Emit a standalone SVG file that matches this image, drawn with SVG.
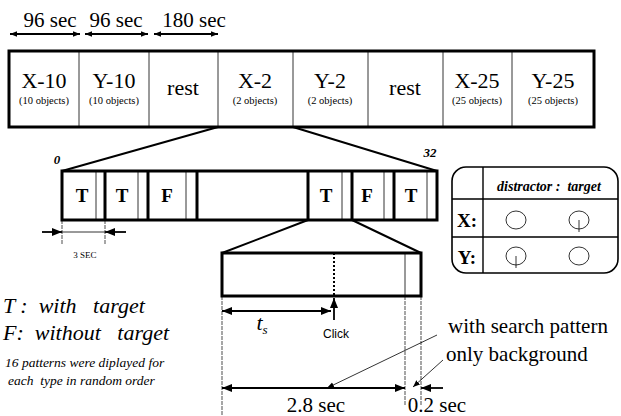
<svg xmlns="http://www.w3.org/2000/svg" width="621" height="416" viewBox="0 0 621 416">
<defs>
<marker id="ah" viewBox="0 0 10 10" refX="10" refY="5" markerWidth="10" markerHeight="10" markerUnits="userSpaceOnUse" orient="auto-start-reverse"><path d="M0,1 L10,5 L0,9 Z" fill="#000"/></marker>
<marker id="ahs" viewBox="0 0 10 10" refX="10" refY="5" markerWidth="7" markerHeight="7" markerUnits="userSpaceOnUse" orient="auto-start-reverse"><path d="M0,1 L10,5 L0,9 Z" fill="#000"/></marker>
</defs>
<style>
.big{font-size:22px;text-anchor:middle}
.sub{font-size:10.5px;text-anchor:middle}
.tf{font-size:19px;font-weight:bold;text-anchor:middle}
.thick{fill:none;stroke:#000;stroke-width:3}
.thin{fill:none;stroke:#000;stroke-width:0.8}
.guide{fill:none;stroke:#000;stroke-width:0.7;stroke-dasharray:4 1}
.line{fill:none;stroke:#000;stroke-width:2}
.arr{fill:none;stroke:#000;stroke-width:1.8}
.pre{white-space:pre}
</style>
<rect width="621" height="416" fill="#fff"/>

<g id="durations">
<text x="50" y="27" font-family="Liberation Serif" font-size="21" text-anchor="middle">96 sec</text>
<text x="116" y="27" font-family="Liberation Serif" font-size="21" text-anchor="middle">96 sec</text>
<text x="194" y="27" font-family="Liberation Serif" font-size="21" text-anchor="middle">180 sec</text>
</g>

<g id="session-bar">
<rect x="9" y="51" width="585" height="76" class="thick"/>
<path d="M79,51V127 M149,51V127 M218,51V127 M293,51V127 M368,51V127 M443,51V127 M512,51V127" class="thin"/>
</g>
<g id="x10"><text x="44" y="88" font-family="Liberation Serif" class="big">X-10</text><text x="44" y="104" font-family="Liberation Serif" class="sub">(10 objects)</text></g>
<g id="y10"><text x="114" y="88" font-family="Liberation Serif" class="big">Y-10</text><text x="114" y="104" font-family="Liberation Serif" class="sub">(10 objects)</text></g>
<g id="rest1"><text x="183" y="95" font-family="Liberation Serif" class="big">rest</text></g>
<g id="x2"><text x="255" y="88" font-family="Liberation Serif" class="big">X-2</text><text x="255" y="104" font-family="Liberation Serif" class="sub">(2 objects)</text></g>
<g id="y2"><text x="330" y="88" font-family="Liberation Serif" class="big">Y-2</text><text x="330" y="104" font-family="Liberation Serif" class="sub">(2 objects)</text></g>
<g id="rest2"><text x="405" y="95" font-family="Liberation Serif" class="big">rest</text></g>
<g id="x25"><text x="477" y="88" font-family="Liberation Serif" class="big">X-25</text><text x="477" y="104" font-family="Liberation Serif" class="sub">(25 objects)</text></g>
<g id="y25"><text x="553" y="88" font-family="Liberation Serif" class="big">Y-25</text><text x="553" y="104" font-family="Liberation Serif" class="sub">(25 objects)</text></g>

<g id="trial-strip">
<rect x="62" y="171" width="375" height="49" class="thick"/>
<path d="M105,171V220 M148,171V220 M197,171V220 M308,171V220 M352,171V220 M394,171V220" stroke="#000" stroke-width="3"/>
<path d="M96,171V220 M138,171V220 M186,171V220 M342,171V220 M384,171V220 M427,171V220" class="thin"/>
<text x="82" y="202" font-family="Liberation Serif" class="tf">T</text>
<text x="122" y="202" font-family="Liberation Serif" class="tf">T</text>
<text x="167" y="202" font-family="Liberation Serif" class="tf">F</text>
<text x="326" y="202" font-family="Liberation Serif" class="tf">T</text>
<text x="367" y="202" font-family="Liberation Serif" class="tf">F</text>
<text x="411" y="202" font-family="Liberation Serif" class="tf">T</text>
<text x="57" y="164" font-family="Liberation Serif" font-size="13" font-weight="bold" font-style="italic" text-anchor="middle">0</text>
<text x="430" y="157" font-family="Liberation Serif" font-size="13" font-weight="bold" font-style="italic" text-anchor="middle">32</text>
</g>

<g id="trial-detail">
<rect x="222" y="253" width="199" height="43" class="thick"/>
<path d="M334,253V296" stroke="#000" stroke-width="2" stroke-dasharray="2 2"/>
<path d="M405,253V296" class="thin"/>
</g>

<g id="legend-table">
<rect x="452" y="167" width="166" height="106" rx="14" ry="14" fill="none" stroke="#000" stroke-width="1.6"/>
<path d="M483,167V273 M452,199H618 M452,237H618" fill="none" stroke="#000" stroke-width="1.4"/>
<text x="549" y="191" font-family="Liberation Serif" font-size="14" font-weight="bold" font-style="italic" text-anchor="middle" class="pre">distractor :  target</text>
<text x="467" y="227" font-family="Liberation Serif" font-size="19" font-weight="bold" text-anchor="middle">X:</text>
<text x="467" y="264" font-family="Liberation Serif" font-size="19" font-weight="bold" text-anchor="middle">Y:</text>
<ellipse cx="516" cy="220" rx="10" ry="9" class="thin" stroke-width="1"/>
<ellipse cx="579" cy="220" rx="10" ry="9" class="thin" stroke-width="1"/>
<path d="M579,220V232" class="thin" stroke-width="1"/>
<ellipse cx="516" cy="256" rx="10" ry="9" class="thin" stroke-width="1"/>
<path d="M516,256V268" class="thin" stroke-width="1"/>
<ellipse cx="579" cy="256" rx="10" ry="9" class="thin" stroke-width="1"/>
</g>

<g id="legend-text">
<text x="3" y="313" font-family="Liberation Serif" font-size="22" font-style="italic" class="pre">T :  with   target</text>
<text x="3" y="340" font-family="Liberation Serif" font-size="22" font-style="italic" class="pre">F:  without   target</text>
<text x="5" y="367" font-family="Liberation Serif" font-size="13.5" font-style="italic">16 patterns were diplayed for</text>
<text x="8" y="385" font-family="Liberation Serif" font-size="13.5" font-style="italic" class="pre">each  type in random order</text>
</g>

<g id="labels">
<text x="85" y="258" font-family="Liberation Serif" font-size="9" text-anchor="middle">3 SEC</text>
<text x="262" y="330" font-family="Liberation Serif" font-size="22" font-style="italic" text-anchor="middle">t<tspan font-size="13" dy="4">s</tspan></text>
<text x="336" y="338" font-family="Liberation Sans" font-size="12" text-anchor="middle">Click</text>
<text x="528" y="333" font-family="Liberation Serif" font-size="21" text-anchor="middle">with search pattern</text>
<text x="446" y="361" font-family="Liberation Serif" font-size="21">only background</text>
<text x="316" y="412" font-family="Liberation Serif" font-size="21" text-anchor="middle">2.8 sec</text>
<text x="437" y="412" font-family="Liberation Serif" font-size="21" text-anchor="middle">0.2 sec</text>
</g>

<g id="connectors">
<line x1="10" y1="34" x2="80" y2="34" class="arr" stroke-width="1.4" marker-start="url(#ahs)" marker-end="url(#ahs)"/>
<line x1="85" y1="34" x2="148" y2="34" class="arr" stroke-width="1.4" marker-start="url(#ahs)" marker-end="url(#ahs)"/>
<line x1="154" y1="34" x2="218" y2="34" class="arr" stroke-width="1.4" marker-start="url(#ahs)" marker-end="url(#ahs)"/>
<path d="M218,127 L62,171 M293,127 L437,171" class="line"/>
<path d="M308,220 L222,253 M352,220 L421,253" class="line"/>
<path d="M62,220V244 M105,220V244" class="guide"/>
<line x1="42" y1="232" x2="62" y2="232" class="arr" marker-end="url(#ah)"/>
<line x1="126" y1="232" x2="105" y2="232" class="arr" marker-end="url(#ah)"/>
<path d="M62,232H105" class="thin"/>
<path d="M222,296V416 M405,296V406 M421,296V406" class="guide"/>
<line x1="222" y1="311" x2="331" y2="311" class="arr" stroke-width="2.2" marker-start="url(#ah)" marker-end="url(#ah)"/>
<line x1="334" y1="320" x2="334" y2="298" class="arr" stroke-width="2" marker-end="url(#ah)"/>
<line x1="222" y1="388" x2="405" y2="388" class="arr" stroke-width="2.2" marker-start="url(#ah)" marker-end="url(#ah)"/>
<line x1="443" y1="388" x2="421" y2="388" class="arr" stroke-width="2.2" marker-end="url(#ah)"/>
<line x1="437" y1="335" x2="327" y2="388" class="thin" stroke-width="1" marker-end="url(#ahs)"/>
<line x1="443" y1="360" x2="413" y2="387" class="thin" stroke-width="1" marker-end="url(#ahs)"/>
</g>
</svg>
